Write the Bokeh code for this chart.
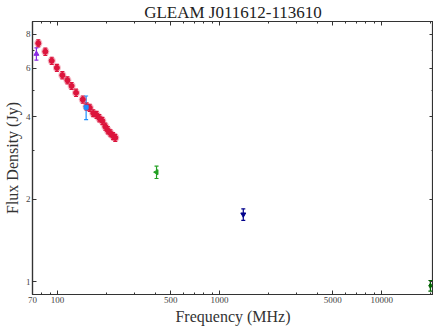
from bokeh.plotting import figure
from bokeh.models import (LogAxis, FixedTicker, Whisker, TeeHead, ColumnDataSource,
                          CustomJSTickFormatter, Range1d)
from bokeh.embed import file_html
from bokeh.resources import INLINE

# GLEAM (red circles)
gleam_freq = [76, 84, 92, 99, 107, 115, 122, 130, 143, 151, 158, 166, 174, 181, 189, 197, 204, 212, 220, 227]
gleam_flux = [7.41, 6.91, 6.40, 6.03, 5.67, 5.43, 5.18, 4.89, 4.62, 4.36, 4.31, 4.12, 4.06, 3.95, 3.86, 3.68, 3.57, 3.48, 3.40, 3.35]
gleam_err = [0.22, 0.21, 0.19, 0.18, 0.17, 0.16, 0.15, 0.15, 0.14, 0.13, 0.13, 0.12, 0.12, 0.12, 0.12, 0.11, 0.11, 0.10, 0.10, 0.10]

# other surveys
vlss_freq, vlss_flux, vlss_err = [74], [6.78], [0.35]
tgss_freq, tgss_flux, tgss_err = [150], [4.33], [0.43]
mrc_freq, mrc_flux, mrc_err = [408], [2.51], [0.13]
nvss_freq, nvss_flux, nvss_err = [1400], [1.76], [0.085]
at20g_freq, at20g_flux, at20g_err = [20000], [0.967], [0.043]

x_major = [70, 100, 500, 1000, 5000, 10000]
x_minor = [80, 90, 200, 300, 400, 600, 700, 800, 900, 2000, 3000, 4000, 6000, 7000, 8000, 9000, 20000]
y_major = [1, 2, 4, 6, 8]
y_minor = [0.9, 3, 5, 7]

FONT = "Liberation Serif"

p = figure(width=433, height=327, x_axis_type="log", y_axis_type="log",
           x_range=Range1d(70, 20900), y_range=Range1d(0.898, 8.9),
           output_backend="svg", toolbar_location=None,
           title="GLEAM J011612-113610",
           min_border_left=0, min_border_right=0, min_border_bottom=0, min_border_top=0)
p.title.text_font = FONT
p.title.text_font_size = "17px"
p.title.text_font_style = "normal"
p.title.text_line_height = 0.8
p.title.align = "center"
p.title.text_color = "#222222"
p.title.standoff = 0
p.title.offset = 0
p.grid.visible = False
p.outline_line_color = "#333333"
p.outline_line_width = 1.2
p.background_fill_color = "white"

def style_axis(ax, ticks, minor, show_labels):
    ax.ticker = FixedTicker(ticks=ticks, minor_ticks=minor)
    ax.major_tick_in = 4
    ax.major_tick_out = 0
    ax.minor_tick_in = 2
    ax.minor_tick_out = 0
    ax.axis_line_color = "#333333"
    ax.axis_line_width = 1.2
    ax.major_tick_line_color = "#333333"
    ax.minor_tick_line_color = "#333333"
    ax.major_label_text_font = FONT
    ax.major_label_text_color = "#444444"
    if show_labels:
        ax.major_label_text_font_size = "9px"
        ax.major_label_standoff = 2
        ax.formatter = CustomJSTickFormatter(code="return String(Math.round(tick*10)/10);")
    else:
        ax.major_label_text_font_size = "1px"
        ax.major_label_standoff = 0
        ax.formatter = CustomJSTickFormatter(code="return '';")

xa = p.xaxis[0]
ya = p.yaxis[0]
style_axis(xa, x_major, x_minor, True)
style_axis(ya, y_major, y_minor, True)
xa.axis_label = "Frequency (MHz)"
ya.axis_label = "Flux Density (Jy)"
for ax in (xa, ya):
    ax.axis_label_text_font = FONT
    ax.axis_label_text_font_size = "16px"
    ax.axis_label_text_font_style = "normal"
    ax.axis_label_text_color = "#333333"
    ax.axis_label_standoff = 2

top = LogAxis()
style_axis(top, x_major, x_minor, False)
p.add_layout(top, "above")
right = LogAxis()
style_axis(right, y_major, y_minor, False)
p.add_layout(right, "right")

def series(freq, flux, err, color, marker, size, halo=False, angle=0.0):
    src = ColumnDataSource(dict(x=freq, y=flux,
                                lo=[f - e for f, e in zip(flux, err)],
                                hi=[f + e for f, e in zip(flux, err)]))
    w = Whisker(source=src, base="x", lower="lo", upper="hi", dimension="height",
                line_color=color, line_width=1.2,
                upper_head=TeeHead(size=4, line_color=color, line_width=1.2),
                lower_head=TeeHead(size=4, line_color=color, line_width=1.2))
    p.add_layout(w)
    if halo:
        p.scatter("x", "y", source=src, marker=marker, size=size + 3, fill_color=color,
                  fill_alpha=0.3, line_color=None)
    p.scatter("x", "y", source=src, marker=marker, size=size, fill_color=color,
              line_color=color, angle=angle)

series(gleam_freq, gleam_flux, gleam_err, "#DC143C", "circle", 5, halo=True)
series(tgss_freq, tgss_flux, tgss_err, "#1E90FF", "square", 4)
series(vlss_freq, vlss_flux, vlss_err, "#8A2BE2", "triangle", 5)
series(mrc_freq, mrc_flux, mrc_err, "#22A022", "triangle", 5, angle=1.5708)
series(nvss_freq, nvss_flux, nvss_err, "#00008B", "inverted_triangle", 5)
series(at20g_freq, at20g_flux, at20g_err, "#006400", "diamond", 5)

open("out.html", "w").write(file_html(p, INLINE))
